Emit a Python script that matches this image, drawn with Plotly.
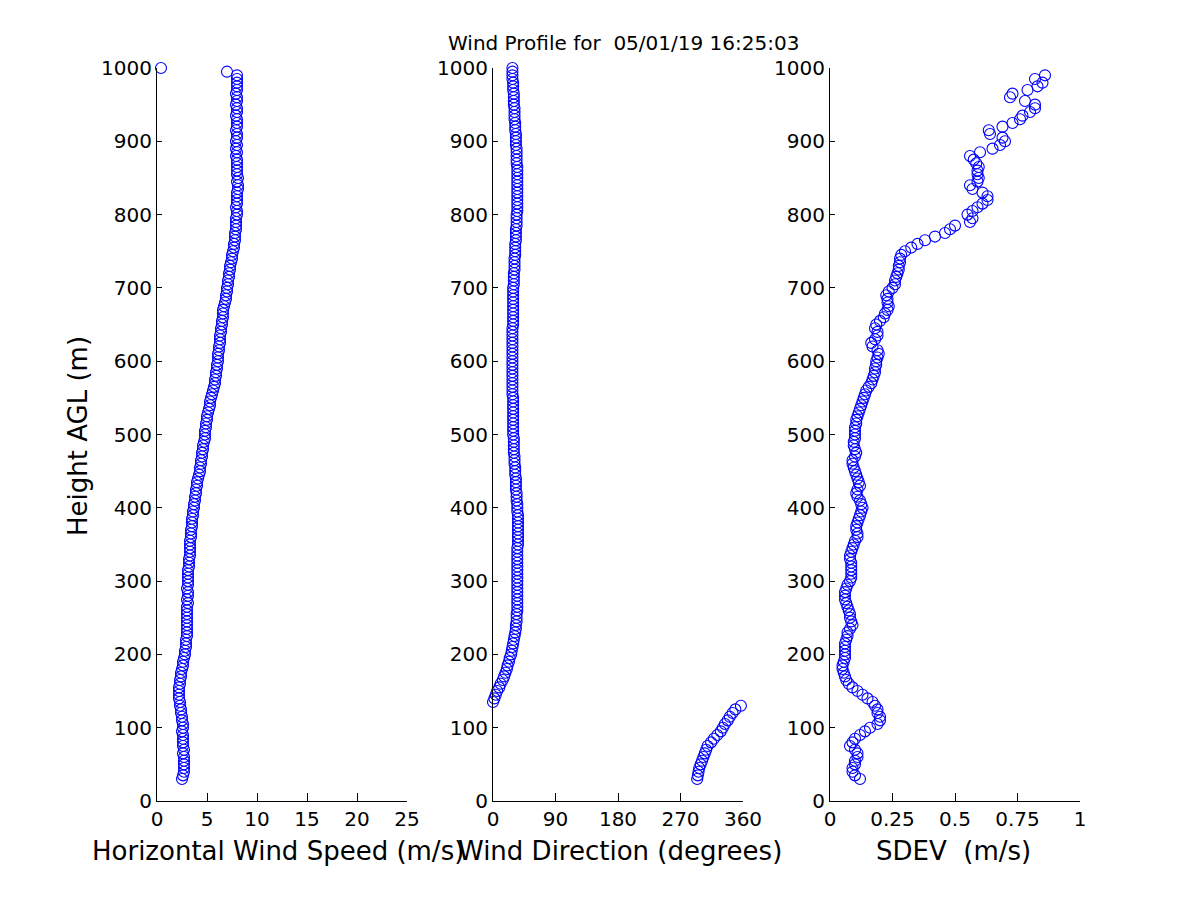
import plotly.graph_objects as go

# ---- data ----
heights = [
    30, 35, 40, 45, 50, 55, 60, 65, 70, 75,
    80, 85, 90, 95, 100, 105, 110, 115, 120, 125,
    130, 135, 140, 145, 150, 155, 160, 165, 170, 175,
    180, 185, 190, 195, 200, 205, 210, 215, 220, 225,
    230, 235, 240, 245, 250, 255, 260, 265, 270, 275,
    280, 285, 290, 295, 300, 305, 310, 315, 320, 325,
    330, 335, 340, 345, 350, 355, 360, 365, 370, 375,
    380, 385, 390, 395, 400, 405, 410, 415, 420, 425,
    430, 435, 440, 445, 450, 455, 460, 465, 470, 475,
    480, 485, 490, 495, 500, 505, 510, 515, 520, 525,
    530, 535, 540, 545, 550, 555, 560, 565, 570, 575,
    580, 585, 590, 595, 600, 605, 610, 615, 620, 625,
    630, 635, 640, 645, 650, 655, 660, 665, 670, 675,
    680, 685, 690, 695, 700, 705, 710, 715, 720, 725,
    730, 735, 740, 745, 750, 755, 760, 765, 770, 775,
    780, 785, 790, 795, 800, 805, 810, 815, 820, 825,
    830, 835, 840, 845, 850, 855, 860, 865, 870, 875,
    880, 885, 890, 895, 900, 905, 910, 915, 920, 925,
    930, 935, 940, 945, 950, 955, 960, 965, 970, 975,
    980, 985, 990, 995, 1000,
]

wind_speed = [
    2.5, 2.6, 2.7, 2.7, 2.7, 2.7, 2.7, 2.6, 2.7, 2.6,
    2.6, 2.6, 2.6, 2.5, 2.6, 2.6, 2.5, 2.5, 2.4, 2.4,
    2.3, 2.3, 2.2, 2.2, 2.2, 2.2, 2.3, 2.3, 2.4, 2.4,
    2.5, 2.6, 2.6, 2.7, 2.8, 2.8, 2.9, 2.9, 2.9, 3.0,
    3.0, 3.0, 3.0, 3.0, 3.0, 3.0, 3.0, 3.0, 3.1, 3.0,
    3.1, 3.1, 3.0, 3.1, 3.1, 3.1, 3.1, 3.1, 3.2, 3.2,
    3.2, 3.3, 3.3, 3.3, 3.3, 3.3, 3.4, 3.4, 3.4, 3.5,
    3.5, 3.5, 3.6, 3.6, 3.7, 3.7, 3.8, 3.8, 3.9, 3.9,
    4.0, 4.0, 4.1, 4.2, 4.3, 4.3, 4.4, 4.4, 4.5, 4.5,
    4.6, 4.6, 4.7, 4.8, 4.8, 4.8, 4.9, 4.9, 5.0, 5.0,
    5.1, 5.2, 5.3, 5.3, 5.4, 5.5, 5.6, 5.7, 5.8, 5.8,
    5.9, 5.9, 6.0, 6.0, 6.1, 6.1, 6.1, 6.2, 6.2, 6.3,
    6.3, 6.3, 6.4, 6.4, 6.5, 6.5, 6.6, 6.6, 6.6, 6.7,
    6.8, 6.9, 6.9, 7.0, 7.0, 7.1, 7.1, 7.2, 7.2, 7.3,
    7.3, 7.4, 7.5, 7.5, 7.6, 7.7, 7.7, 7.8, 7.8, 7.8,
    7.9, 7.9, 7.9, 7.9, 8.0, 8.0, 7.9, 8.0, 8.0, 8.0,
    8.0, 8.1, 8.1, 8.0, 8.1, 8.0, 8.0, 8.0, 8.0, 8.0,
    7.9, 8.0, 7.9, 8.0, 7.9, 8.0, 8.0, 7.9, 8.0, 8.0,
    8.0, 7.9, 8.0, 8.0, 7.9, 8.0, 8.0, 7.9, 8.0, 8.0,
    8.0, 8.0, 8.0, 7.0, 0.4,
]

wind_direction = [
    294, 295, 296, 297, 299, 301, 303, 305, 307, 309,
    314, 318, 323, 328, 331, 334, 338, 341, 345, 349,
    357, 0, 2, 4, 6, 9, 11, 14, 16, 18,
    20, 21, 23, 24, 26, 27, 28, 29, 30, 31,
    32, 33, 33, 34, 34, 34, 35, 35, 35, 35,
    35, 35, 35, 35, 35, 35, 35, 35, 35, 35,
    35, 35, 35, 35, 36, 36, 36, 36, 36, 36,
    36, 36, 36, 35, 35, 35, 34, 34, 34, 33,
    33, 33, 33, 32, 32, 32, 31, 31, 31, 30,
    30, 30, 30, 30, 29, 29, 29, 29, 29, 29,
    29, 29, 29, 29, 29, 28, 28, 28, 28, 28,
    28, 28, 28, 28, 28, 28, 28, 28, 28, 28,
    28, 28, 28, 28, 29, 29, 29, 29, 29, 29,
    29, 29, 29, 29, 29, 30, 30, 30, 30, 31,
    31, 31, 31, 32, 32, 32, 32, 33, 33, 33,
    33, 34, 34, 34, 34, 35, 35, 35, 35, 35,
    35, 35, 35, 35, 35, 35, 35, 35, 34, 34,
    34, 34, 34, 33, 33, 33, 33, 32, 32, 32,
    31, 31, 31, 31, 30, 30, 30, 30, 29, 29,
    29, 28, 28, 28, 28,
]

sdev = [
    0.12, 0.10, 0.09, 0.09, 0.10, 0.10, 0.11, 0.11, 0.10, 0.08,
    0.09, 0.10, 0.12, 0.14, 0.16, 0.19, 0.20, 0.20, 0.19, 0.19,
    0.18, 0.17, 0.15, 0.13, 0.11, 0.09, 0.075, 0.065, 0.06, 0.055,
    0.05, 0.05, 0.055, 0.06, 0.06, 0.06, 0.06, 0.06, 0.065, 0.07,
    0.07, 0.08, 0.09, 0.085, 0.08, 0.08, 0.075, 0.07, 0.065, 0.06,
    0.06, 0.06, 0.065, 0.07, 0.08, 0.085, 0.085, 0.085, 0.085, 0.085,
    0.08, 0.08, 0.085, 0.09, 0.095, 0.10, 0.11, 0.11, 0.105, 0.105,
    0.11, 0.115, 0.12, 0.125, 0.13, 0.125, 0.12, 0.11, 0.105, 0.11,
    0.12, 0.115, 0.11, 0.105, 0.10, 0.095, 0.09, 0.09, 0.10, 0.105,
    0.10, 0.095, 0.095, 0.10, 0.10, 0.10, 0.10, 0.105, 0.105, 0.11,
    0.115, 0.12, 0.125, 0.13, 0.135, 0.14, 0.145, 0.155, 0.165, 0.17,
    0.175, 0.18, 0.18, 0.185, 0.185, 0.19, 0.195, 0.19, 0.17, 0.165,
    0.18, 0.19, 0.19, 0.18, 0.185, 0.20, 0.215, 0.22, 0.23, 0.235,
    0.23, 0.23, 0.225, 0.235, 0.25, 0.26, 0.26, 0.265, 0.27, 0.275,
    0.275, 0.28, 0.28, 0.285, 0.30, 0.325, 0.35, 0.38, 0.42, 0.46,
    0.48, 0.50, 0.56, 0.57, 0.55, 0.57, 0.59, 0.61, 0.63, 0.63,
    0.61, 0.57, 0.56, 0.59, 0.595, 0.59, 0.59, 0.595, 0.585, 0.575,
    0.56, 0.60, 0.65, 0.68, 0.70, 0.69, 0.64, 0.635, 0.69, 0.73,
    0.76, 0.77, 0.80, 0.82, 0.82, 0.78, 0.72, 0.73, 0.79, 0.83,
    0.85, 0.82, 0.86, None, None,
]

title_text = "Wind Profile for  05/01/19 16:25:03"
speed_ticks = [0, 5, 10, 15, 20, 25]
dir_ticks = [0, 90, 180, 270, 360]
sdev_ticks = [0, 0.25, 0.5, 0.75, 1]
sdev_ticktext = ["0", "0.25", "0.5", "0.75", "1"]
height_ticks = [0, 100, 200, 300, 400, 500, 600, 700, 800, 900, 1000]

# ---- figure ----
W, H = 1200, 900
OFF = 8  # page body margin offset
FONT = "DejaVu Sans, Liberation Sans, Arial, sans-serif"
BLUE = "#0000ff"

def px_x(p):
    return (p - OFF) / W

def px_y(p):
    return 1 - (p - OFF) / H

marker = dict(symbol="circle-open", size=11, color=BLUE, line=dict(color=BLUE, width=1.1))

fig = go.Figure()
fig.add_trace(go.Scatter(x=wind_speed, y=heights, mode="markers", marker=marker,
                         xaxis="x", yaxis="y", cliponaxis=False, showlegend=False))
fig.add_trace(go.Scatter(x=wind_direction, y=heights, mode="markers", marker=marker,
                         xaxis="x2", yaxis="y2", cliponaxis=False, showlegend=False))
fig.add_trace(go.Scatter(x=sdev, y=heights, mode="markers", marker=marker,
                         xaxis="x3", yaxis="y3", cliponaxis=False, showlegend=False))

ydom = [px_y(801), px_y(68)]
xdoms = [[px_x(157), px_x(407)], [px_x(493), px_x(743)], [px_x(830), px_x(1080)]]

tickfont = dict(family=FONT, size=20, color="black")
common_x = dict(showline=True, linecolor="black", linewidth=1, ticks="inside", ticklen=8,
                tickcolor="black", tickwidth=1, showgrid=False, zeroline=False,
                tickfont=tickfont, mirror=False, fixedrange=True, automargin=False)
common_y = dict(showline=True, linecolor="black", linewidth=1, ticks="inside", ticklen=5,
                tickcolor="black", tickwidth=1, showgrid=False, zeroline=False,
                tickfont=tickfont, mirror=False, range=[0, 1000], tickmode="array",
                tickvals=height_ticks, domain=ydom, fixedrange=True, ticklabelstandoff=0,
                automargin=False)

layout = dict(
    width=W, height=H,
    margin=dict(l=0, r=0, t=0, b=0, pad=0),
    paper_bgcolor="white", plot_bgcolor="white",
    font=dict(family=FONT, color="black"),
    xaxis=dict(common_x, domain=xdoms[0], range=[0, 25], tickmode="array",
               tickvals=speed_ticks, anchor="y"),
    xaxis2=dict(common_x, domain=xdoms[1], range=[0, 360], tickmode="array",
                tickvals=dir_ticks, anchor="y2"),
    xaxis3=dict(common_x, domain=xdoms[2], range=[0, 1], tickmode="array",
                tickvals=sdev_ticks, ticktext=sdev_ticktext, anchor="y3"),
    yaxis=dict(common_y, anchor="x"),
    yaxis2=dict(common_y, anchor="x2"),
    yaxis3=dict(common_y, anchor="x3"),
    showlegend=False,
)
fig.update_layout(**layout)

annots = [
    dict(text=title_text, x=px_x(623), y=px_y(43), font=dict(size=20)),
    dict(text="Horizontal Wind Speed (m/s)", x=px_x(278), y=px_y(851), font=dict(size=26)),
    dict(text="Wind Direction (degrees)", x=px_x(620), y=px_y(851), font=dict(size=26)),
    dict(text="SDEV  (m/s)", x=px_x(953), y=px_y(851), font=dict(size=26)),
    dict(text="Height AGL (m)", x=px_x(78), y=px_y(436), font=dict(size=26), textangle=-90),
]
for a in annots:
    a.update(xref="paper", yref="paper", showarrow=False, xanchor="center", yanchor="middle")
    a["font"].update(family=FONT, color="black")
    fig.add_annotation(**a)

fig.write_html("out.html")
